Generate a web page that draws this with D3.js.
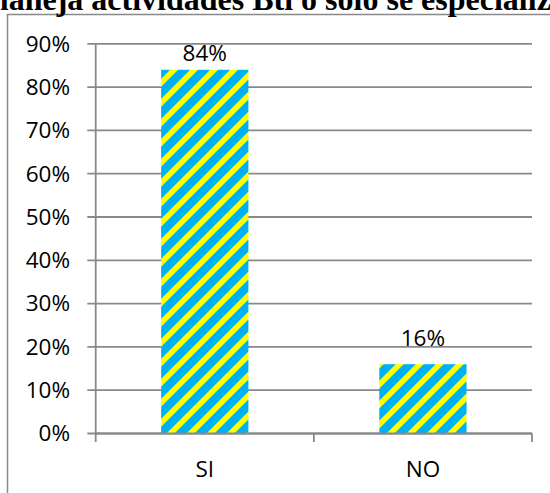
<!DOCTYPE html>
<html><head><meta charset="utf-8">
<script src="https://cdn.jsdelivr.net/npm/d3@7"></script>
<style>body{margin:0;background:#fff}svg{display:block}</style>
</head><body>
<script>
const titleText = "maneja actividades Btl o solo se especializa";
const categories = ["SI", "NO"];
const values = [0.84, 0.16];
const yTickValues = [0, 0.1, 0.2, 0.3, 0.4, 0.5, 0.6, 0.7, 0.8, 0.9];
const yTickLabels = ["0%", "10%", "20%", "30%", "40%", "50%", "60%", "70%", "80%", "90%"];
const dataLabels = ["84%", "16%"];

const W = 550, H = 493;
const svg = d3.select("body").append("svg").attr("width", W).attr("height", H);
const grey = "#898989";
const font = "'Open Sans', sans-serif";

// pattern
const defs = svg.append("defs");
const pat = defs.append("pattern").attr("id", "stripes")
  .attr("patternUnits", "userSpaceOnUse").attr("width", 14.14).attr("height", 14.14)
  .attr("patternTransform", "rotate(45)");
pat.append("rect").attr("width", 14.14).attr("height", 14.14).attr("fill", "#00B0F0");
pat.append("rect").attr("width", 5.6).attr("height", 14.14).attr("fill", "#FFFF00");

// frame
svg.append("path").attr("d", "M7.5,500 L7.5,14.5 L560,14.5")
  .attr("fill", "none").attr("stroke", grey).attr("stroke-width", 1.5);

// title (cropped at top and sides, as in the reference)
svg.append("text").attr("x", -18).attr("y", 10)
  .attr("font-family", "'Liberation Serif', 'Times New Roman', serif")
  .attr("font-weight", "bold").attr("font-size", 32).attr("fill", "#000")
  .text(titleText);

const x = d3.scaleBand().domain(categories).range([95.7, 532]).paddingInner(0.6).paddingOuter(0.3);
const y = d3.scaleLinear().domain([0, 0.9]).range([433.5, 43.8]);

// gridlines
svg.append("g").selectAll("line").data(yTickValues).join("line")
  .attr("x1", 87.3).attr("x2", 532).attr("y1", d => y(d)).attr("y2", d => y(d))
  .attr("stroke", grey).attr("stroke-width", 1.8);

// y labels
svg.append("g").selectAll("text").data(yTickValues).join("text")
  .attr("x", 70).attr("y", d => y(d) + 7.8).attr("text-anchor", "end")
  .attr("font-family", font).attr("font-size", 22.5).attr("fill", "#000")
  .text((d, i) => yTickLabels[i]);

// bars
svg.append("g").selectAll("rect").data(values).join("rect")
  .attr("x", (d, i) => x(categories[i])).attr("width", x.bandwidth())
  .attr("y", d => y(d)).attr("height", d => y(0) - y(d))
  .attr("fill", "url(#stripes)");

// y axis line
svg.append("line").attr("x1", 95.7).attr("x2", 95.7).attr("y1", y(0.9)).attr("y2", y(0))
  .attr("stroke", grey).attr("stroke-width", 1.8);
// x axis line + ticks
svg.append("line").attr("x1", 95.7).attr("x2", 532).attr("y1", y(0)).attr("y2", y(0))
  .attr("stroke", grey).attr("stroke-width", 1.8);
const step = x.step();
const tickXs = [95.7, 95.7 + step, 95.7 + 2 * step];
svg.append("g").selectAll("line").data(tickXs).join("line")
  .attr("x1", d => d).attr("x2", d => d).attr("y1", y(0)).attr("y2", y(0) + 8.5)
  .attr("stroke", grey).attr("stroke-width", 1.8);

// x labels
svg.append("g").selectAll("text").data(categories).join("text")
  .attr("x", d => x(d) + x.bandwidth() / 2).attr("y", 476.5).attr("text-anchor", "middle")
  .attr("font-family", font).attr("font-size", 22.5).attr("fill", "#000")
  .text(d => d);

// data labels
svg.append("g").selectAll("text").data(values).join("text")
  .attr("x", (d, i) => x(categories[i]) + x.bandwidth() / 2)
  .attr("y", d => Math.max(y(d) - 18.5, y(0.9) + 17.2)).attr("text-anchor", "middle")
  .attr("font-family", font).attr("font-size", 22.5).attr("fill", "#000")
  .text((d, i) => dataLabels[i]);
</script>
</body></html>
